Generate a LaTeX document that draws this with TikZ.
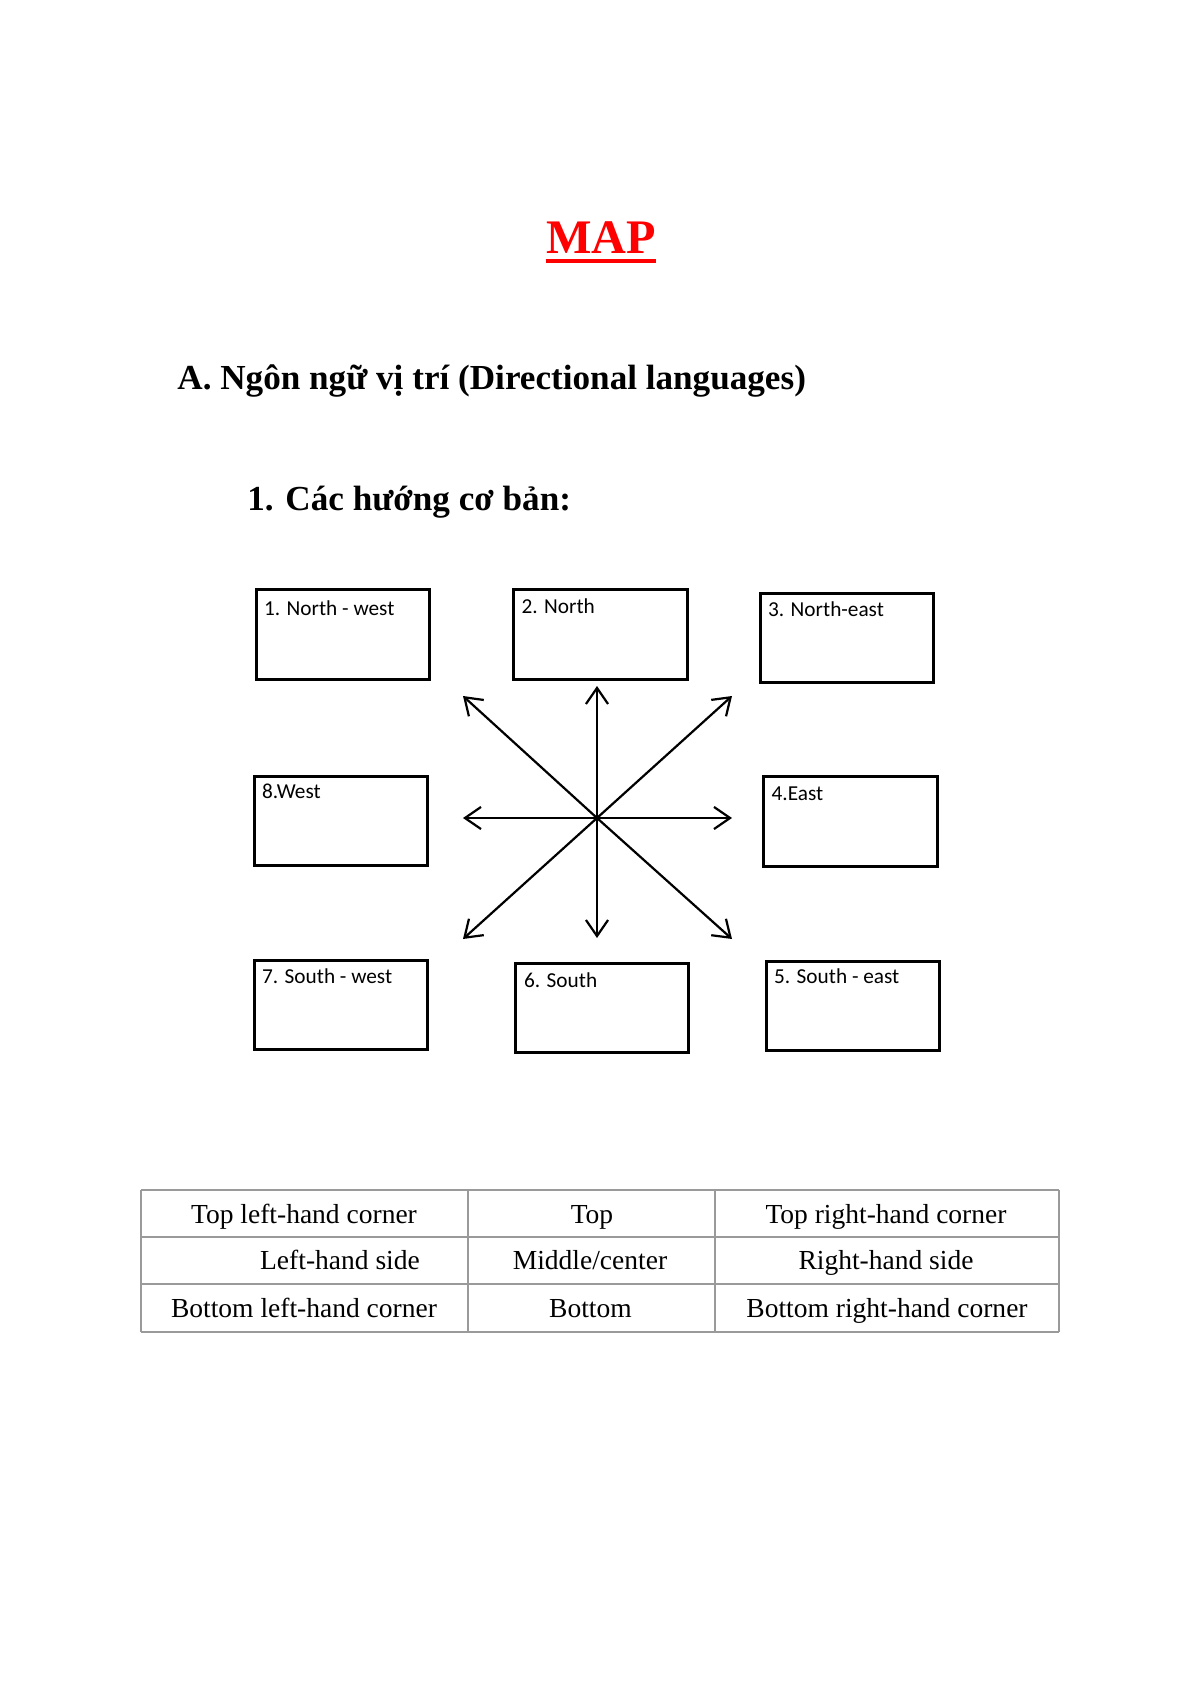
\documentclass[tikz,border=0pt]{standalone}
\usepackage{fontspec}
\setmainfont{Liberation Serif}
\newfontfamily\boxfont{Carlito}
\usepackage{xcolor}
\usetikzlibrary{arrows.meta,positioning}
\definecolor{titlered}{HTML}{FF0000}
\definecolor{rulegray}{HTML}{9A9A9A}
\tikzset{
	x=0.0175cm, y=-0.0175cm, % one unit = one pixel of the page, y downwards
	dirbox/.style={draw, line width=1.4pt, inner sep=0pt, minimum width=3.04cm, minimum height=1.57cm},
	boxlabel/.style={anchor=base west, inner sep=0pt, font=\boxfont\fontsize{10.6pt}{13pt}\selectfont},
	dirarrow/.style={-{Straight Barb[length=8pt,width=11pt]}, line width=1.1pt, shorten >=0pt},
	heading/.style={anchor=base west, inner sep=0pt, font=\bfseries\fontsize{17.5pt}{21pt}\selectfont},
	cell/.style={anchor=base, inner sep=0pt, font=\fontsize{13.7pt}{16pt}\selectfont},
	tablerule/.style={draw=rulegray, line width=0.9pt},
}
\begin{document}
\begin{tikzpicture}
        \useasboundingbox (0,0) rectangle (1200,1696);

        % titles
        \node[anchor=base, inner sep=0pt, font=\bfseries\fontsize{24pt}{28pt}\selectfont, text=titlered] (title) at (601,254) {MAP};
        \draw[titlered, line width=1.6pt] ([yshift=-3.5pt]title.base west) -- ([yshift=-3.5pt]title.base east);
        \node[heading] (partA) at (177,390) {A. Ngôn ngữ vị trí (Directional languages)};
        \node[heading] (part1) at (247,510) {1. Các hướng cơ bản:};

        % the eight boxes
        \node[dirbox] (nw) at (343,634.5) {};
        \node[dirbox] (n) at (600.5,634.5) {};
        \node[dirbox] (ne) at (847,638) {};
        \node[dirbox] (w) at (341,821) {};
        \node[dirbox] (e) at (850.5,821.5) {};
        \node[dirbox] (sw) at (341,1005) {};
        \node[dirbox] (s) at (602,1008) {};
        \node[dirbox] (se) at (853,1006) {};

        \node[boxlabel] (nwText) at ([shift={(9,27)}]nw.north west) {1. North - west};
        \node[boxlabel] (nText) at ([shift={(9,25)}]n.north west) {2. North};
        \node[boxlabel] (neText) at ([shift={(9,25)}]ne.north west) {3. North-east};
        \node[boxlabel] (eText) at ([shift={(9,25)}]e.north west) {4.East};
        \node[boxlabel] (seText) at ([shift={(9,24)}]se.north west) {5. South - east};
        \node[boxlabel] (sText) at ([shift={(10,26)}]s.north west) {6. South};
        \node[boxlabel] (swText) at ([shift={(9,25)}]sw.north west) {7. South - west};
        \node[boxlabel] (wText) at ([shift={(9,24)}]w.north west) {8.West};

        % compass arrows
        \coordinate (hub) at (597,818);
        \coordinate (toN) at (597,686);
        \coordinate (toS) at (597,938);
        \coordinate (toW) at (463,818);
        \coordinate (toE) at (732,818);
        \coordinate (toNW) at (463,696);
        \coordinate (toNE) at (732,696);
        \coordinate (toSW) at (463,939);
        \coordinate (toSE) at (732,939);
        \draw[dirarrow] (hub) -- (toN);
        \draw[dirarrow] (hub) -- (toS);
        \draw[dirarrow] (hub) -- (toW);
        \draw[dirarrow] (hub) -- (toE);
        \draw[dirarrow] (hub) -- (toNW);
        \draw[dirarrow] (hub) -- (toNE);
        \draw[dirarrow] (hub) -- (toSW);
        \draw[dirarrow] (hub) -- (toSE);

        % table of positions
        \draw[tablerule] (141,1190) -- (1059,1190);
        \draw[tablerule] (141,1237) -- (1059,1237);
        \draw[tablerule] (141,1284) -- (1059,1284);
        \draw[tablerule] (141,1332) -- (1059,1332);
        \draw[tablerule] (141,1190) -- (141,1332);
        \draw[tablerule] (468,1190) -- (468,1332);
        \draw[tablerule] (715,1190) -- (715,1332);
        \draw[tablerule] (1059,1190) -- (1059,1332);

        \node[cell] (topLeft) at (304,1223) {Top left-hand corner};
        \node[cell] (top) at (592,1223) {Top};
        \node[cell] (topRight) at (886,1223) {Top right-hand corner};
        \node[cell] (left) at (340,1269) {Left-hand side};
        \node[cell] (middle) at (590,1269) {Middle/center};
        \node[cell] (right) at (886,1269) {Right-hand side};
        \node[cell] (bottomLeft) at (304,1317) {Bottom left-hand corner};
        \node[cell] (bottom) at (590.5,1317) {Bottom};
        \node[cell] (bottomRight) at (887,1317) {Bottom right-hand corner};
\end{tikzpicture}
\end{document}
